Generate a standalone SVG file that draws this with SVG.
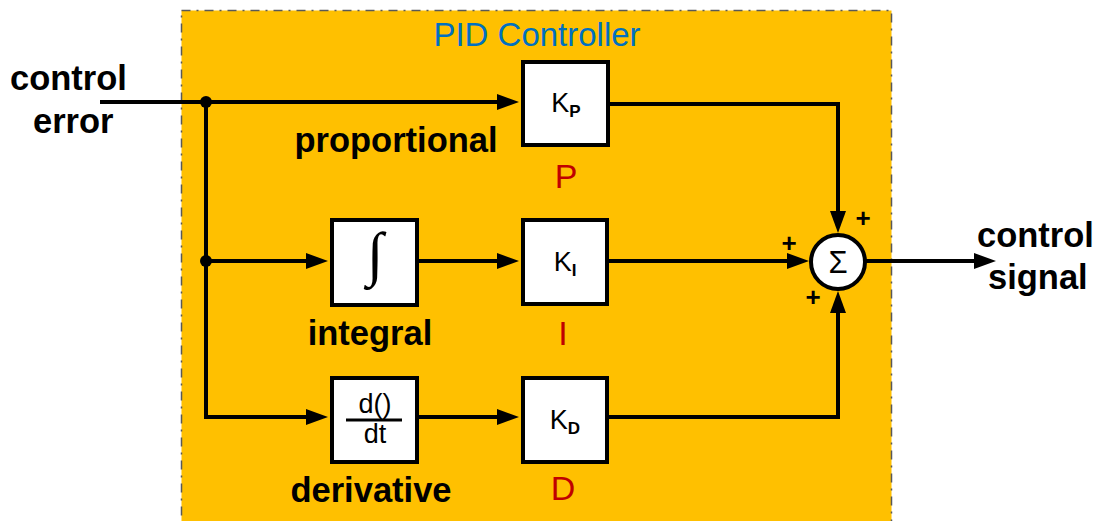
<svg xmlns="http://www.w3.org/2000/svg" width="1099" height="521" viewBox="0 0 1099 521">
<defs>
<marker id="arr" markerUnits="userSpaceOnUse" markerWidth="24" markerHeight="18" refX="12" refY="8" orient="auto">
<path d="M0,0 L22,8 L0,16 z" fill="#000"/>
</marker>
<style>
.blk{fill:#fff;stroke:#000;stroke-width:4}
.ln{fill:none;stroke:#000;stroke-width:4;marker-end:url(#arr)}
.lbl{font-family:"Liberation Sans",Arial,sans-serif;font-weight:bold;font-size:34.5px;fill:#000}
.red{font-family:"Liberation Sans",Arial,sans-serif;font-size:34px;fill:#C00000;text-anchor:middle}
.k{font-family:"Liberation Sans",Arial,sans-serif;font-size:27px;fill:#000;text-anchor:middle}
.sub{font-size:17px;font-weight:bold}
.plus{font-family:"Liberation Sans",Arial,sans-serif;font-weight:bold;font-size:26px;fill:#000;text-anchor:middle}
</style>
</defs>
<rect width="1099" height="521" fill="#fff"/>
<g id="pid-container">
<rect x="181.5" y="10.5" width="710" height="520" fill="#FFC000" stroke="#595959" stroke-width="1.5" stroke-dasharray="9,6,2,6"/>
<text x="537" y="46" font-family="Liberation Sans,Arial,sans-serif" font-size="33" fill="#0070C0" text-anchor="middle">PID Controller</text>
</g>
<g id="connectors">
<path class="ln" d="M100,102 H509"/>
<path class="ln" d="M206,102 V417 H318"/>
<path class="ln" d="M206,261 H318"/>
<path class="ln" d="M419,261 H509"/>
<path class="ln" d="M419,417 H509"/>
<path class="ln" d="M610,104 H838 V223"/>
<path class="ln" d="M609,261 H799"/>
<path class="ln" d="M609,417 H838 V301"/>
<path class="ln" d="M866,261 H986"/>
<circle cx="206" cy="102" r="6" fill="#000"/>
<circle cx="206" cy="261" r="6" fill="#000"/>
</g>
<g id="kp">
<rect class="blk" x="523" y="62" width="85" height="83"/>
<text class="k" x="566" y="112">K<tspan class="sub" dy="5">P</tspan></text>
</g>
<g id="integrator">
<rect class="blk" x="332" y="220" width="85" height="85"/>
<text x="375" y="274" font-family="Liberation Serif,DejaVu Serif,serif" font-size="60" text-anchor="middle" fill="#000">∫</text>
</g>
<g id="ki">
<rect class="blk" x="523" y="220" width="84" height="84"/>
<text class="k" x="565" y="271">K<tspan class="sub" dy="5">I</tspan></text>
</g>
<g id="differentiator">
<rect class="blk" x="332" y="378" width="85" height="84"/>
<text class="k" x="375" y="413">d()</text>
<line x1="346" y1="420" x2="402" y2="420" stroke="#000" stroke-width="3"/>
<text class="k" x="375" y="443">dt</text>
</g>
<g id="kd">
<rect class="blk" x="523" y="378" width="84" height="84"/>
<text class="k" x="565" y="429">K<tspan class="sub" dy="5">D</tspan></text>
</g>
<g id="sum">
<circle cx="838" cy="262" r="27" fill="#fff" stroke="#000" stroke-width="4"/>
<text x="838" y="273" font-family="Liberation Sans,Arial,sans-serif" font-size="31" text-anchor="middle" fill="#000">Σ</text>
<text class="plus" x="863" y="227">+</text>
<text class="plus" x="789" y="252">+</text>
<text class="plus" x="813" y="306">+</text>
</g>
<g id="labels">
<text class="lbl" x="10" y="90">control</text>
<text class="lbl" x="33" y="133">error</text>
<text class="lbl" x="396" y="152" text-anchor="middle">proportional</text>
<text class="lbl" x="370" y="345" text-anchor="middle">integral</text>
<text class="lbl" x="371" y="502" text-anchor="middle">derivative</text>
<text class="red" x="566" y="188">P</text>
<text class="red" x="563" y="345">I</text>
<text class="red" x="563" y="500">D</text>
<text class="lbl" x="977" y="247">control</text>
<text class="lbl" x="988" y="289">signal</text>
</g>
</svg>
